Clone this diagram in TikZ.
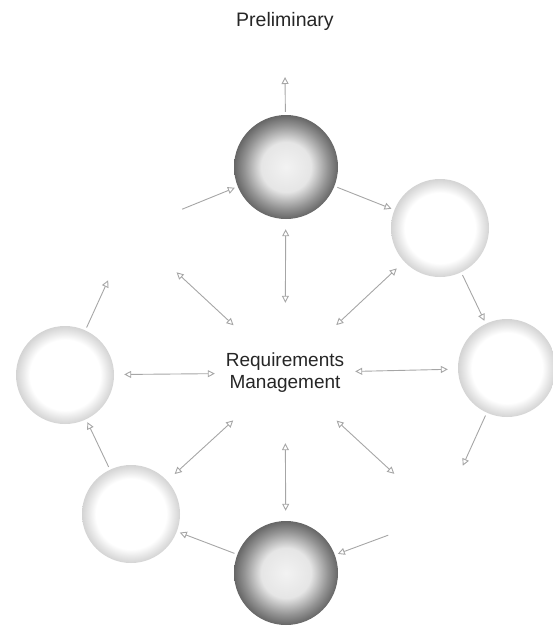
\documentclass[tikz,border=0pt]{standalone}
\usepackage{fontspec}
\setmainfont{Liberation Sans}
\usetikzlibrary{arrows.meta}
\pgfdeclareradialshading{darkring}{\pgfpoint{0bp}{0bp}}{color(0bp)=(black!5); color(12bp)=(black!10); color(20bp)=(black!42); color(25bp)=(black!60); color(50bp)=(black!60)}
\pgfdeclareradialshading{lightring}{\pgfpoint{0bp}{0bp}}{color(0bp)=(white); color(18bp)=(white); color(22bp)=(black!10); color(25bp)=(black!17); color(50bp)=(black!17)}
\tikzset{
  phasedark/.style={circle, minimum size=104pt, inner sep=0pt, shade, shading=darkring},
  phaselight/.style={circle, minimum size=98pt, inner sep=0pt, shade, shading=lightring},
  phasehidden/.style={circle, minimum size=104pt, inner sep=0pt},
  head/.tip={Triangle[open, length=7pt, width=7pt]},
  link/.style={draw=black!35, line width=0.9pt, -head, shorten <=3pt, shorten >=3pt},
  spoke/.style={draw=black!35, line width=0.9pt, head-head, shorten <=2pt, shorten >=10pt},
  lbl/.style={font=\fontsize{19}{22}\selectfont, text=black!85, align=center}
}
\begin{document}
\begin{tikzpicture}[x=1pt, y=-1pt]
  \useasboundingbox (0,0) rectangle (553,627);
  % title
  \node[lbl, font=\fontsize{19.5}{22}\selectfont] (prelim) at (285,21) {Preliminary};
  \coordinate (prelimtip) at (285,77);
  % centre
  \node[lbl, circle, minimum size=136pt, inner sep=0pt] (rm) at (285,373) {Requirements\\Management};
  % phases
  \node[phasedark]   (A) at (286,167) {};
  \node[phaselight]  (B) at (440,228) {};
  \node[phaselight]  (C) at (507,368) {};
  \node[phasehidden] (D) at (440,516) {};
  \node[phasedark]   (E) at (286,573) {};
  \node[phaselight]  (F) at (131,514) {};
  \node[phaselight]  (G) at (65,375) {};
  \node[phasehidden] (H) at (131,230) {};
  % preliminary link
  \draw[link, shorten >=0pt] (A) -- (prelimtip);
  % cycle
  \draw[link] (A) -- (B);
  \draw[link] (B) -- (C);
  \draw[link] (C) -- (D);
  \draw[link] (D) -- (E);
  \draw[link] (E) -- (F);
  \draw[link] (F) -- (G);
  \draw[link] (G) -- (H);
  \draw[link] (H) -- (A);
  % spokes
  \foreach \p in {A,B,C,D,E,F,G,H}
    \draw[spoke] (rm) -- (\p);
\end{tikzpicture}
\end{document}
